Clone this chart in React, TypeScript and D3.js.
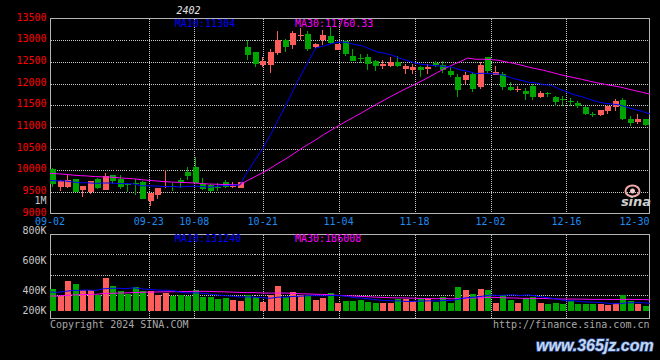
import React from "react";
import * as d3 from "d3";

// ---------- data ----------
const dates = [
  "09-02","09-03","09-04","09-05","09-06","09-09","09-10","09-11","09-12","09-13","09-18","09-19","09-20","09-23","09-24","09-25","09-26","09-27","09-30",
  "10-08","10-09","10-10","10-11","10-14","10-15","10-16","10-17","10-18","10-21","10-22","10-23","10-24","10-25","10-28","10-29","10-30","10-31",
  "11-01","11-04","11-05","11-06","11-07","11-08","11-11","11-12","11-13","11-14","11-15","11-18","11-19","11-20","11-21","11-22","11-25","11-26","11-27","11-28","11-29",
  "12-02","12-03","12-04","12-05","12-06","12-09","12-10","12-11","12-12","12-13","12-16","12-17","12-18","12-19","12-20","12-23","12-24","12-25","12-26","12-27","12-30","12-31",
];

const open = [
  10030, 9615, 9615, 9792, 9545, 9487, 9785, 9546, 9884, 9790,
  9680, 9700, 9720, 9290, 9425, 9610, 9640, 9780, 9960, 10075,
  9670, 9650, 9620, 9730, 9620, 9600, 12845, 12722, 12435, 12433,
  12715, 13006, 12884, 13100, 13150, 12853, 13006, 13098, 12777, 12984,
  12640, 12590, 12600, 12510, 12395, 12393, 12490, 12335, 12317, 12370,
  12340, 12465, 12430, 12300, 12157, 12090, 12210, 11928, 12600, 12203,
  12230, 11928, 11840, 11835, 11950, 11680, 11770, 11698, 11640, 11600,
  11544, 11468, 11305, 11262, 11376, 11468, 11620, 11186, 11108, 11170,
];
const high = [
  10060, 9770, 9880, 9800, 9635, 9760, 9810, 9930, 9890, 9890,
  9707, 9790, 9740, 9480, 9600, 10000, 9707, 9830, 10070, 10300,
  9810, 9680, 9707, 9770, 9730, 9730, 13006, 12730, 12610, 12806,
  13213, 13030, 13213, 13290, 13200, 12945, 13229, 13300, 12920, 13006,
  12793, 12680, 12680, 12540, 12547, 12600, 12640, 12450, 12449, 12410,
  12449, 12520, 12520, 12380, 12219, 12272, 12256, 12486, 12620, 12393,
  12256, 12030, 11950, 11888, 11990, 11830, 11810, 11720, 11720, 11668,
  11590, 11480, 11337, 11400, 11500, 11640, 11660, 11240, 11290, 11180,
];
const low = [
  9620, 9525, 9585, 9490, 9386, 9448, 9560, 9540, 9680, 9560,
  9500, 9420, 9330, 9180, 9333, 9600, 9530, 9580, 9770, 9700,
  9540, 9500, 9520, 9580, 9590, 9590, 12540, 12370, 12385, 12233,
  12650, 12737, 12806, 13000, 12760, 12790, 12900, 12910, 12770, 12640,
  12520, 12470, 12320, 12295, 12330, 12380, 12370, 12220, 12210, 12157,
  12220, 12370, 12233, 12160, 11682, 11990, 11813, 11875, 12250, 12190,
  11840, 11835, 11800, 11622, 11622, 11660, 11700, 11490, 11470, 11470,
  11430, 11280, 11222, 11250, 11290, 11376, 11150, 11030, 11070, 11020,
];
const close = [
  9690, 9753, 9769, 9500, 9625, 9753, 9600, 9868, 9740, 9620,
  9670, 9690, 9340, 9478, 9585, 9640, 9620, 9730, 9860, 9710,
  9565, 9520, 9610, 9615, 9640, 9720, 12663, 12440, 12510, 12737,
  13006, 12852, 13160, 13115, 12790, 12921, 13121, 12945, 12908, 12692,
  12530, 12580, 12440, 12410, 12450, 12500, 12400, 12395, 12370, 12310,
  12390, 12420, 12320, 12190, 11852, 12190, 11880, 12426, 12280, 12272,
  11912, 11860, 11875, 11750, 11682, 11790, 11750, 11567, 11630, 11590,
  11470, 11290, 11295, 11390, 11491, 11590, 11170, 11094, 11170, 11032,
];
const volume = [
  362000, 251000, 496000, 446000, 346000, 346000, 262000, 551000, 412000, 329000,
  289000, 396000, 334000, 329000, 262000, 301000, 251000, 272000, 251000, 346000,
  234000, 234000, 195000, 217000, 179000, 162000, 262000, 234000, 150000, 262000,
  412000, 234000, 317000, 262000, 262000, 179000, 217000, 301000, 134000, 162000,
  162000, 179000, 150000, 134000, 134000, 134000, 195000, 205000, 162000, 205000,
  205000, 150000, 234000, 134000, 401000, 346000, 279000, 362000, 346000, 139000,
  272000, 179000, 139000, 217000, 234000, 139000, 122000, 139000, 112000, 162000,
  112000, 112000, 112000, 112000, 105000, 139000, 262000, 162000, 112000, 78000,
];
// sessions before 09-02 (only used to warm up the moving averages)
const prevCloses = [
  10050, 10120, 10080, 9980, 10010, 10060, 9990, 9950, 10030, 10070,
  10000, 9960, 9940, 10020, 10040, 9980, 9950, 10010, 9990, 9970,
  9820, 9790, 9750, 9800, 9760, 9730, 9780, 9740, 9740,
];
const prevVolumes = [
  230000, 200000, 210000, 240000, 190000, 220000, 205000, 215000, 250000, 200000,
  210000, 225000, 195000, 230000, 215000, 220000, 205000, 230000, 210000, 220000,
  300000, 340000, 290000, 320000, 310000, 330000, 280000, 320000, 318000,
];

const priceTicks = [13500, 13000, 12500, 12000, 11500, 11000, 10500, 10000, 9500, 9000];
const volTickLabels = ["800K", "600K", "400K", "200K"];
const dateTicks = ["09-02", "09-23", "10-08", "10-21", "11-04", "11-18", "12-02", "12-16", "12-30"];
const title = "2402";
const priceLegend = ["MA10:11304", "MA30:11760.33"];
const volLegend = ["MA10:131240", "MA30:186008"];

// ---------- style ----------
const RED = "#ff5c5c";
const GREEN = "#00a600";
const MA10C = "#0000ff";
const MA30C = "#ff00ff";
const GRID = "#c8c8c8";
const BORDER = "#b4b4b4";
const MONO = "'DejaVu Sans Mono', 'Liberation Mono', monospace";

function movingAvg(vals: number[], prev: number[], k: number) {
  const all = [...prev, ...vals];
  const p = prev.length;
  return vals.map((_, i) => d3.mean(all.slice(i + p - k + 1, i + p + 1)) as number);
}

export default function App() {
  const n = close.length;
  const L = 50.5, R = 649.5;
  const pTop = 18.5, pBot = 213.5;
  const vTop = 234.5, vBot = 318.5, vBase = 311;

  const xBand = d3.scaleBand<number>().domain(d3.range(n)).range([50, 650]).paddingInner(0.2).paddingOuter(0.1).align(0);
  const xPt = d3.scalePoint<number>().domain(d3.range(n)).range([50, 650]);
  const yP = d3.scaleLinear().domain([9000, 13500]).range([pBot, pTop]);
  const yV = d3.scaleLinear().domain([0, 1000000]).range([vBase, vBase - 1000000 / 16700]);

  const ma10 = movingAvg(close, prevCloses, 10);
  const ma30 = movingAvg(close, prevCloses, 30);
  const vma10 = movingAvg(volume, prevVolumes, 10);
  const vma30 = movingAvg(volume, prevVolumes, 30);

  const lineP = d3.line<number>().x((_, i) => xPt(i) as number).y((d) => yP(d));
  const lineV = d3.line<number>().x((_, i) => xPt(i) as number).y((d) => yV(d));

  const bw = Math.round(xBand.bandwidth());
  const tickIdx = dateTicks.map((t) => dates.indexOf(t));
  const volGridYs = [1, 2, 3].map((k) => Math.floor(vTop + k * 20.45) + 0.5);
  const volLabelYs = [234.3, 264, 294, 314.3];

  return (
    <div style={{ position: "absolute", left: 0, top: 0, width: 660, height: 360, background: "#000" }}>
      <svg width={660} height={360} style={{ display: "block" }}>
        <rect x={0} y={0} width={660} height={360} fill="#000" />

        {/* title */}
        <text x={188.5} y={14} textAnchor="middle" fontFamily={MONO} fontSize={10} fontStyle="italic" fill="#e6e6e6">{title}</text>

        {/* grid and frames */}
        <g shapeRendering="crispEdges">
          {priceTicks.slice(1, -1).map((t) => (
            <line key={t} x1={L} x2={R} y1={Math.round(yP(t)) + 0.5} y2={Math.round(yP(t)) + 0.5} stroke={GRID} strokeDasharray="1,1" />
          ))}
          {tickIdx.slice(1, -1).map((i) => {
            const x = Math.round(xPt(i) as number) + 0.5;
            return (
              <g key={i}>
                <line x1={x} x2={x} y1={pTop} y2={pBot} stroke={GRID} strokeDasharray="1,1" />
                <line x1={x} x2={x} y1={vTop} y2={vBot} stroke={GRID} strokeDasharray="1,1" />
              </g>
            );
          })}
          {volGridYs.map((y) => (
            <line key={y} x1={L} x2={R} y1={y} y2={y} stroke={GRID} strokeDasharray="1,1" />
          ))}
          <rect x={L} y={pTop} width={R - L} height={pBot - pTop} fill="none" stroke={BORDER} />
          <rect x={L} y={vTop} width={R - L} height={vBot - vTop} fill="none" stroke={BORDER} />
        </g>

        {/* sina logo */}
        <g>
          <ellipse cx={632.5} cy={191} rx={7} ry={5.5} fill="none" stroke="#f0a8a8" strokeWidth={2} />
          <circle cx={632.5} cy={191} r={2.5} fill="#f6c8c8" />
          <text x={636} y={206} textAnchor="middle" fontFamily="'DejaVu Sans', sans-serif" fontWeight="bold" fontStyle="italic" fontSize={13} fill="#cfcfcf">sina</text>
        </g>

        {/* candles */}
        <g shapeRendering="crispEdges">
          {close.map((c, i) => {
            const o = open[i];
            const up = c >= o;
            const col = up ? RED : GREEN;
            const x = Math.round(xBand(i) as number);
            const yTop = Math.round(yP(Math.max(o, c)));
            const yBot = Math.round(yP(Math.min(o, c)));
            return (
              <g key={i}>
                <rect x={x + 2} y={Math.round(yP(high[i]))} width={1} height={Math.max(1, Math.round(yP(low[i])) - Math.round(yP(high[i])))} fill={col} />
                <rect x={x} y={yTop} width={bw} height={Math.max(1, yBot - yTop)} fill={col} />
              </g>
            );
          })}
        </g>

        {/* price MAs */}
        <path d={lineP(ma30) || ""} fill="none" stroke={MA30C} strokeWidth={1} />
        <path d={lineP(ma10) || ""} fill="none" stroke={MA10C} strokeWidth={1} />

        {/* volume bars */}
        <g shapeRendering="crispEdges">
          {volume.map((v, i) => {
            const up = close[i] >= open[i];
            const x = Math.round(xBand(i) as number);
            const y = Math.round(yV(v));
            return <rect key={i} x={x} y={y} width={bw} height={vBase - y} fill={up ? RED : GREEN} />;
          })}
        </g>
        <path d={lineV(vma30) || ""} fill="none" stroke={MA30C} strokeWidth={1} />
        <path d={lineV(vma10) || ""} fill="none" stroke={MA10C} strokeWidth={1} />

        {/* price axis labels */}
        {priceTicks.map((t) => (
          <text key={t} x={46.5} y={yP(t) + 2} textAnchor="end" fontFamily={MONO} fontSize={10} fill="#ff0000">{t}</text>
        ))}
        <text x={46.5} y={203.5} textAnchor="end" fontFamily={MONO} fontSize={10} fill="#c8c8c8">1M</text>

        {/* date labels */}
        {dateTicks.map((t, k) => {
          const half = 15;
          const x = Math.min(xPt(tickIdx[k]) as number, 649.5 - half);
          return <text key={t} x={x} y={224.5} textAnchor="middle" fontFamily={MONO} fontSize={10} fill="#1e8cf0">{t}</text>;
        })}

        {/* volume axis labels */}
        {volTickLabels.map((t, k) => (
          <text key={t} x={46.5} y={volLabelYs[k]} textAnchor="end" fontFamily={MONO} fontSize={10} fill="#c8c8c8">{t}</text>
        ))}

        {/* legends */}
        <text x={175} y={27} fontFamily={MONO} fontSize={10} fill={MA10C}>{priceLegend[0]}</text>
        <text x={295} y={27} fontFamily={MONO} fontSize={10} fill={MA30C}>{priceLegend[1]}</text>
        <text x={175} y={242} fontFamily={MONO} fontSize={10} fill={MA10C}>{volLegend[0]}</text>
        <text x={295} y={242} fontFamily={MONO} fontSize={10} fill={MA30C}>{volLegend[1]}</text>

        {/* footer */}
        <text x={50} y={327.5} fontFamily={MONO} fontSize={10} fill="#a8a8a8">Copyright 2024 SINA.COM</text>
        <text x={649.5} y={327.5} textAnchor="end" fontFamily={MONO} fontSize={10} fill="#a8a8a8">http://finance.sina.com.cn</text>

        {/* watermark */}
        <text x={536} y={351} fontFamily="'Liberation Sans', Arial, sans-serif" fontWeight="bold" fontStyle="italic" fontSize={16} fill="#c4d6f2" stroke="#2c4f90" strokeWidth={1.4} paintOrder="stroke">www.365jz.com</text>
      </svg>
    </div>
  );
}
